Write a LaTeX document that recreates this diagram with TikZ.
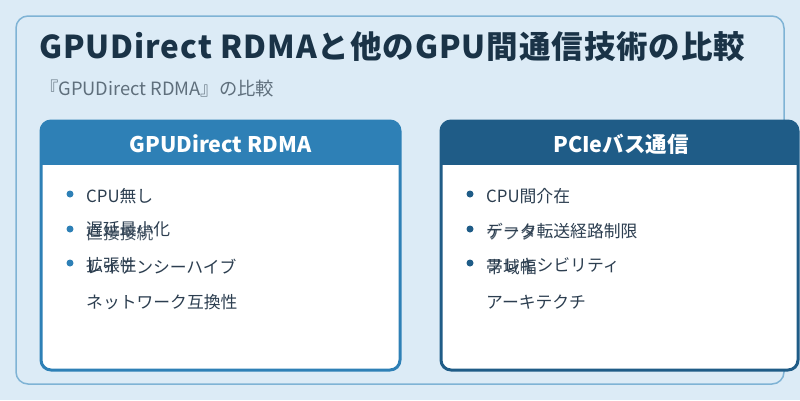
\documentclass[tikz,border=0pt]{standalone}
\usepackage{fontspec}
\setmainfont{Noto Sans CJK JP}
\newfontfamily\titlefont[LetterSpace=3]{Noto Sans CJK JP}
\definecolor{bgc}{HTML}{DCEBF6}
\definecolor{outer}{HTML}{7FB3D5}
\definecolor{hdrA}{HTML}{2E80B6}
\definecolor{hdrB}{HTML}{1F5C87}
\definecolor{titlec}{HTML}{1A3347}
\definecolor{subc}{HTML}{5F6F7C}
\definecolor{bodyc}{HTML}{2C3E50}
\tikzset{
  titletext/.style={anchor=west, inner sep=0, text=titlec, font=\titlefont\fontsize{31.5}{35}\selectfont\bfseries},
  subtext/.style={anchor=west, inner sep=0, text=subc, font=\fontsize{18.3}{21}\selectfont},
  hdrtext/.style={inner sep=0, text=white, font=\fontsize{21.5}{25}\selectfont\bfseries},
  item/.style={anchor=west, inner sep=0, text=bodyc, font=\fontsize{16.8}{20}\selectfont},
  ghost/.style={item, opacity=0.85},
  bulletA/.style={circle, fill=hdrA, inner sep=0, minimum size=7},
  bulletB/.style={circle, fill=hdrB, inner sep=0, minimum size=7},
}
\begin{document}
\begin{tikzpicture}[x=1pt,y=-1pt]
\fill[bgc] (0,0) rectangle (800,400);
\useasboundingbox (0,0) rectangle (800,400);
% outer panel
\draw[outer, line width=1.5, rounded corners=12] (16,16) rectangle (784,384);
\node[titletext] (title) at (39,47) {GPUDirect RDMAと他のGPU間通信技術の比較};
\node[subtext] (sub) at (40,89) {『GPUDirect RDMA』の比較};
% left card
\begin{scope}
\clip[rounded corners=10] (41,121) rectangle (400,370);
\fill[white] (41,121) rectangle (400,370);
\fill[hdrA] (41,121) rectangle (400,165);
\end{scope}
\draw[hdrA, line width=3, rounded corners=10] (41,121) rectangle (400,370);
\node[hdrtext] (hA) at (220.5,144) {GPUDirect RDMA};
% right card
\begin{scope}
\clip[rounded corners=10] (441,121) rectangle (798,370);
\fill[white] (441,121) rectangle (798,370);
\fill[hdrB] (441,121) rectangle (798,165);
\end{scope}
\draw[hdrB, line width=3, rounded corners=10] (441,121) rectangle (798,370);
\node[hdrtext] (hB) at (621,144) {PCIeバス通信};
% left items
\node[bulletA] (ba1) at (70,194) {};
\node[item] (la1) at (86,196) {CPU無し};
\node[bulletA] (ba2) at (70,229) {};
\node[item] (la2) at (86,229) {遅延最小化};
\node[ghost] (la2b) at (86,233) {直接接続};
\node[bulletA] (ba3) at (70,263) {};
\node[item] (la3b) at (86,267) {レイテンシーハイブ};
\node[item] (la3) at (86,265) {拡張性};
\node[item] (la4) at (86,302) {ネットワーク互換性};
% right items
\node[bulletB] (bb1) at (470,194) {};
\node[item] (rb1) at (486,196) {CPU間介在};
\node[bulletB] (bb2) at (470,229) {};
\node[item] (rb2) at (486,231) {データ転送経路制限};
\node[ghost] (rb2b) at (486,233) {ケフタ};
\node[bulletB] (bb3) at (470,263) {};
\node[item] (rb3b) at (486,265) {フレキシビリティ};
\node[item] (rb3) at (486,267) {帯域幅};
\node[item] (rb4) at (486,302) {アーキテクチ};
\end{tikzpicture}
\end{document}
